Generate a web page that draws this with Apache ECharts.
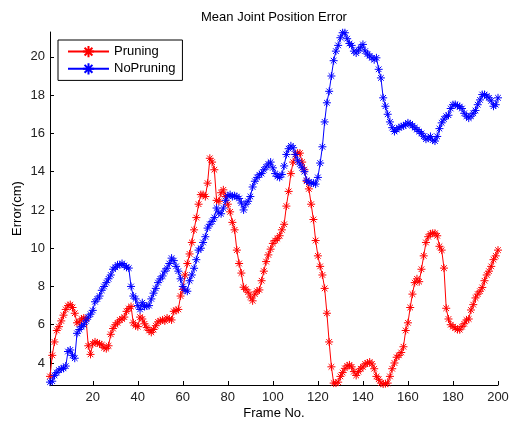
<!DOCTYPE html>
<html>
<head>
<meta charset="utf-8">
<script src="https://cdn.jsdelivr.net/npm/echarts@6/dist/echarts.min.js"></script>
<style>html,body{margin:0;padding:0;background:#fff}#c{width:512px;height:422px}</style>
</head>
<body>
<div id="c"></div>
<script>
const titleText = 'Mean Joint Position Error';
const xName = 'Frame No.';
const yName = 'Error(cm)';
const seriesNames = ['Pruning', 'NoPruning'];
const xTicks = [20, 40, 60, 80, 100, 120, 140, 160, 180, 200];
const yTicks = [4, 6, 8, 10, 12, 14, 16, 18, 20];

const pruning = [
  3.3, 4.4, 5.1, 5.7, 5.9, 6.2, 6.5, 6.8, 7.0, 7.05,
  6.9, 6.6, 6.1, 6.15, 6.3, 6.35, 6.3, 4.9, 4.45, 5.0,
  5.1, 5.05, 5.0, 4.95, 4.8, 4.75, 4.9, 5.5, 5.8, 6.0,
  6.1, 6.25, 6.3, 6.4, 6.7, 6.85, 6.95, 6.1, 5.95, 5.9,
  6.4, 6.3, 6.05, 5.85, 5.7, 5.6, 5.75, 5.95, 6.15, 6.2,
  6.25, 6.2, 6.35, 6.3, 6.25, 6.7, 6.75, 6.8, 7.5, 7.85,
  8.6, 9.2, 9.7, 10.3, 10.96, 11.6, 12.3, 12.8, 12.8, 12.7,
  13.4, 14.7, 14.5, 14.1, 12.5, 12.45, 12.9, 13.05, 12.7, 12.3,
  11.9, 11.35, 10.96, 9.9, 9.2, 8.7, 7.96, 7.85, 7.7, 7.45,
  7.25, 7.6, 7.75, 7.82, 8.3, 8.8, 9.3, 9.65, 9.95, 10.25,
  10.4, 10.5, 10.65, 10.96, 11.25, 12.2, 12.97, 13.9, 14.5, 14.9,
  14.97, 14.97, 14.5, 14.1, 13.5, 13.1, 12.3, 11.5, 10.4, 9.6,
  9.05, 8.6, 7.9, 6.6, 5.1, 3.8, 2.95, 2.95, 3.0, 3.3,
  3.5, 3.72, 3.85, 3.9, 3.8, 3.55, 3.35, 3.55, 3.7, 3.8,
  3.95, 4.0, 4.05, 3.95, 3.7, 3.3, 3.15, 2.95, 2.9, 2.92,
  2.95, 3.3, 3.7, 4.0, 4.3, 4.4, 4.55, 4.85, 5.7, 6.1,
  6.9, 7.6, 8.2, 8.4, 8.25, 8.9, 9.6, 10.3, 10.6, 10.75,
  10.78, 10.78, 10.65, 10.1, 9.9, 8.96, 6.86, 6.3, 6.0, 5.9,
  5.83, 5.75, 5.74, 5.9, 6.05, 6.25, 6.3, 6.77, 7.05, 7.4,
  7.6, 7.75, 7.95, 8.3, 8.6, 8.8, 9.05, 9.4, 9.6, 9.9
];

const noPruning = [
  3.0, 3.05, 3.35, 3.5, 3.63, 3.7, 3.72, 3.84, 4.6, 4.68,
  4.4, 4.25, 5.55, 5.75, 5.9, 6.0, 6.2, 6.4, 6.55, 6.75,
  7.2, 7.35, 7.5, 7.8, 8.0, 8.2, 8.4, 8.6, 8.9, 9.0,
  9.13, 9.13, 9.2, 9.1, 9.0, 8.96, 8.0, 7.5, 7.35, 7.0,
  6.8, 7.15, 6.95, 6.98, 7.0, 7.35, 7.65, 7.9, 8.2, 8.4,
  8.55, 8.8, 8.95, 9.2, 9.48, 9.35, 9.05, 8.8, 8.4, 8.0,
  7.8, 7.75, 8.3, 8.6, 8.95, 9.4, 9.9, 10.0, 10.3, 10.6,
  11.05, 11.25, 11.4, 11.6, 12.1, 11.85, 11.8, 12.1, 12.5, 12.74,
  12.8, 12.7, 12.74, 12.7, 12.6, 12.36, 12.0, 12.3, 12.45, 12.7,
  13.2, 13.5, 13.7, 13.84, 13.9, 14.1, 14.25, 14.4, 14.5, 14.2,
  13.9, 13.75, 13.7, 13.85, 14.3, 14.9, 15.2, 15.35, 15.25, 14.9,
  14.6, 14.4, 14.2, 14.0, 13.55, 13.45, 13.4, 13.4, 13.35, 13.7,
  14.45, 15.3, 16.6, 17.6, 18.2, 19.0, 19.8, 20.3, 20.6, 21.0,
  21.26, 21.26, 20.95, 20.7, 20.6, 20.3, 20.2, 20.35, 20.5, 20.65,
  20.3, 20.15, 20.05, 19.95, 19.85, 19.95, 19.35, 18.9, 17.86, 17.42,
  17.0, 16.6, 16.3, 16.1, 16.2, 16.3, 16.35, 16.4, 16.45, 16.55,
  16.5, 16.4, 16.3, 16.2, 16.1, 16.0, 15.85, 15.7, 15.75, 15.84,
  15.65, 15.6, 15.84, 16.25, 16.55, 16.75, 16.9, 16.95, 17.3, 17.5,
  17.51, 17.45, 17.4, 17.3, 17.05, 16.9, 16.8, 16.9, 17.05, 17.2,
  17.5, 17.75, 18.03, 18.03, 17.95, 17.86, 17.7, 17.42, 17.5, 17.86
];

const starPath = 'path://M5,0L5,10M0,5L10,5M1.5,1.5L8.5,8.5M1.5,8.5L8.5,1.5';
const font = 'Liberation Sans, Arial, Helvetica, sans-serif';
const colors = ['#ff0000', '#0000ff'];

function pairs(vals) {
  return vals.map((v, i) => [i + 1, v]);
}

const chart = echarts.init(document.getElementById('c'), null, {renderer: 'canvas'});
chart.setOption({
  animation: false,
  backgroundColor: '#fff',
  textStyle: {fontFamily: font},
  title: {
    text: titleText,
    left: 201,
    top: 11,
    padding: 0,
    textStyle: {fontFamily: font, fontSize: 13, fontWeight: 'normal', color: '#000'}
  },
  grid: {left: 50, right: 14, top: 32, bottom: 37, containLabel: false, outerBoundsMode: 'none'},
  legend: {
    orient: 'vertical',
    left: 58, top: 40,
    padding: [5, 7, 5, 9],
    itemGap: 4,
    itemWidth: 41, itemHeight: 14,
    backgroundColor: '#fff',
    borderColor: '#000', borderWidth: 1, borderRadius: 0,
    textStyle: {fontFamily: font, fontSize: 13, color: '#000'},
    data: seriesNames
  },
  xAxis: {
    type: 'value', min: 1, max: 200,
    name: xName, nameLocation: 'middle', nameGap: 22, nameMoveOverlap: false,
    nameTextStyle: {fontFamily: font, fontSize: 13, color: '#000'},
    axisLine: {show: true, onZero: false, lineStyle: {color: '#000', width: 1}},
    axisTick: {show: true, inside: true, length: 4, customValues: xTicks, lineStyle: {color: '#000'}},
    axisLabel: {show: true, customValues: xTicks, margin: 6, fontFamily: font, fontSize: 13, color: '#222'},
    splitLine: {show: false}
  },
  yAxis: {
    type: 'value', min: 2.85, max: 21.3,
    name: yName, nameLocation: 'middle', nameGap: 26, nameMoveOverlap: false,
    nameTextStyle: {fontFamily: font, fontSize: 13, color: '#000'},
    axisLine: {show: true, onZero: false, lineStyle: {color: '#000', width: 1}},
    axisTick: {show: true, inside: true, length: 4, customValues: yTicks, lineStyle: {color: '#000'}},
    axisLabel: {show: true, customValues: yTicks, margin: 5, fontFamily: font, fontSize: 13, color: '#222'},
    splitLine: {show: false}
  },
  series: [
    {
      name: seriesNames[0], type: 'line', data: pairs(pruning),
      symbol: starPath, symbolSize: 8, showAllSymbol: true,
      lineStyle: {color: colors[0], width: 1},
      itemStyle: {color: colors[0], borderColor: colors[0], borderWidth: 1},
      emphasis: {disabled: true}
    },
    {
      name: seriesNames[1], type: 'line', data: pairs(noPruning),
      symbol: starPath, symbolSize: 8, showAllSymbol: true,
      lineStyle: {color: colors[1], width: 1},
      itemStyle: {color: colors[1], borderColor: colors[1], borderWidth: 1},
      emphasis: {disabled: true}
    }
  ]
});
</script>
</body>
</html>
